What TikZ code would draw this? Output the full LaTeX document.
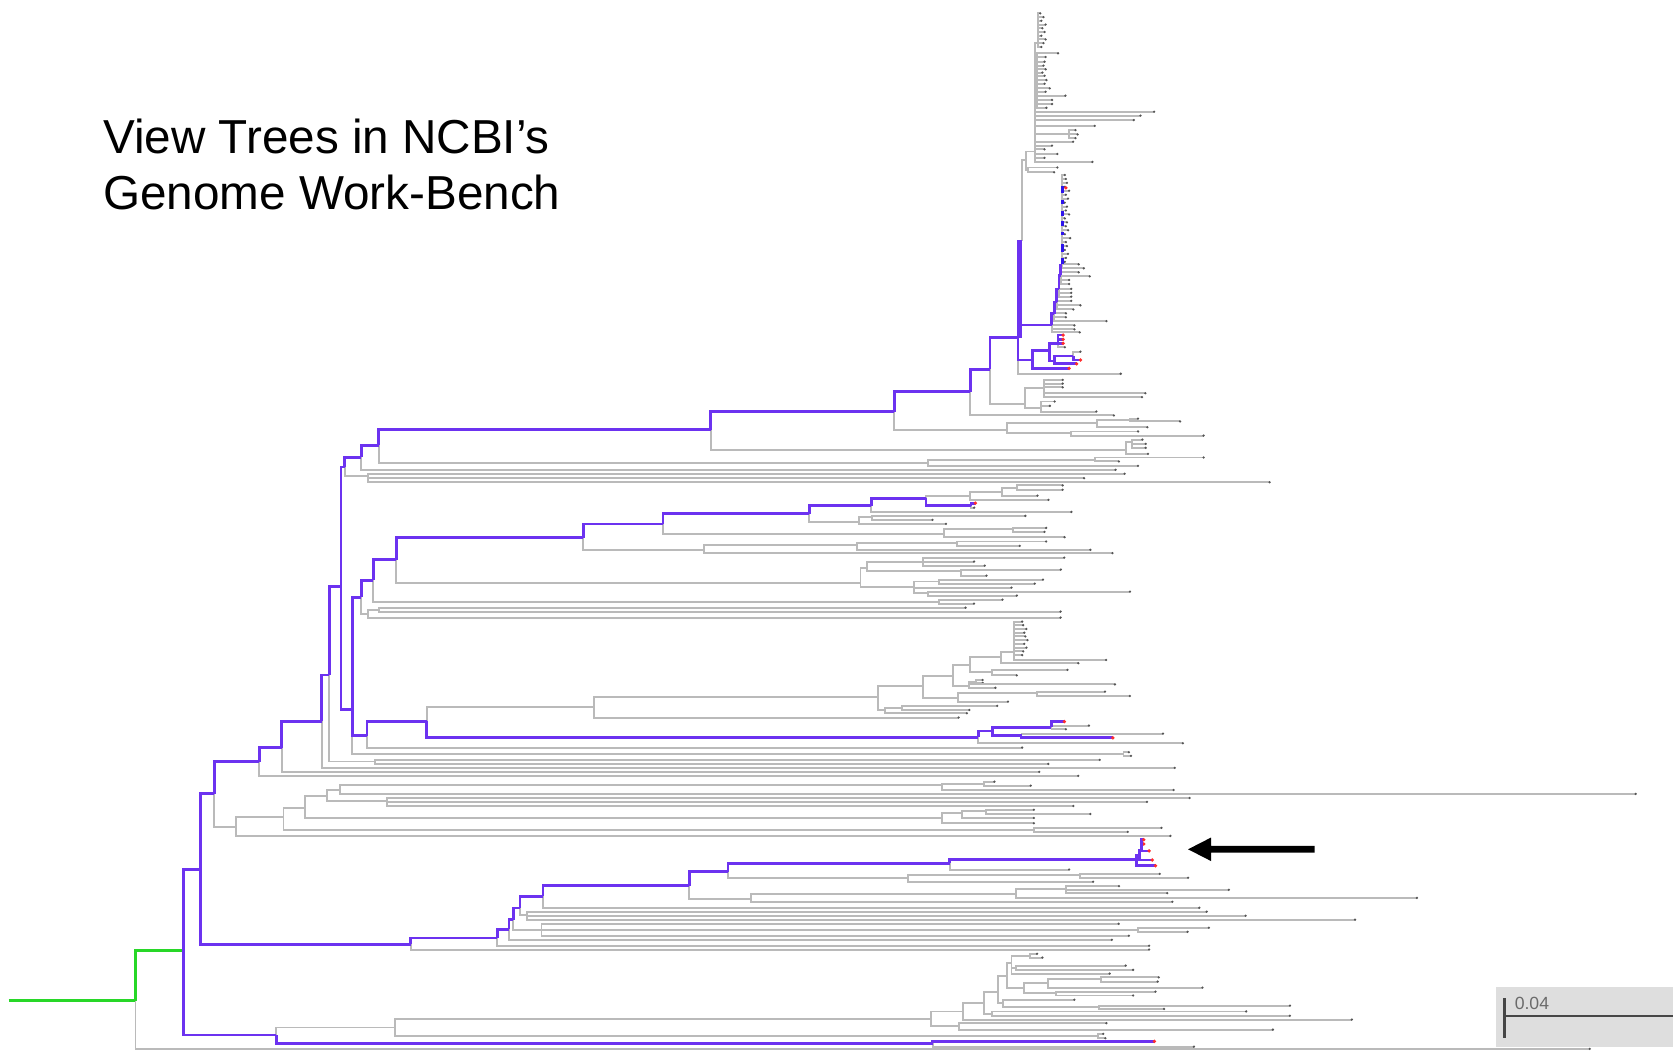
\documentclass[tikz,border=0pt]{standalone}
\usepackage{fontspec}
\newfontfamily\arialf{Liberation Sans}
\definecolor{treegray}{RGB}{186,186,186}
\definecolor{tipgray}{RGB}{85,85,85}
\definecolor{treepurple}{RGB}{108,50,240}
\definecolor{tipred}{RGB}{255,45,45}
\definecolor{treegreen}{RGB}{40,215,40}
\definecolor{blueseg}{RGB}{45,20,235}
\definecolor{scalebox}{RGB}{222,222,222}
\definecolor{scaleink}{RGB}{70,70,70}
\pgfdeclarelayer{fg}
\pgfsetlayers{main,fg}
\tikzset{
  gb/.style={draw=treegray, line width=0.52pt},
  pb/.style={draw=treepurple, line width=0.72pt},
  grn/.style={draw=treegreen, line width=0.72pt},
  tipc/.style={fill=tipgray},
  redtip/.style={fill=tipred},
  ttl/.style={font=\arialf\fontsize{12.7}{15}\selectfont, inner sep=0pt, anchor=base west},
}
% gray branch / gray leaf: elbow from parent (#1,#2) to child (#3,#4)
\newcommand\tgB[4]{\draw[gb] (#1,#2) |- (#3,#4);}
\newcommand\tgL[4]{\draw[gb] (#1,#2) |- (#3,#4); \fill[tipc] (#3,#4) circle (0.34pt);}
% purple branch / purple leaf, kept above the gray ones
\newcommand\tpB[4]{\begin{pgfonlayer}{fg}\draw[pb] (#1,#2) |- (#3,#4);\end{pgfonlayer}}
\newcommand\tpL[4]{\begin{pgfonlayer}{fg}\draw[pb] (#1,#2) |- (#3,#4); \fill[redtip] (#3,#4) circle (0.5pt);\end{pgfonlayer}}
\begin{document}
\begin{tikzpicture}[x=0.01cm,y=-0.01cm]
\useasboundingbox (0,0) rectangle (1568,985);

% ---------- title ----------
\node[ttl] (title1) at (96,143.7) {View Trees in NCBI’s};
\node[ttl] (title2) at (96,196.8) {Genome Work-Bench};

% ---------- root ----------
\draw[grn] (8,938) -- (127,938);
\draw[grn] (127,938) |- (172,891);
\tgL{127}{938}{1490}{983}
\tpB{172}{891}{188}{815}
\tpB{172}{891}{259}{970}

% ---------- bottom clade ----------
\tgB{259}{970}{370}{963}
\tpB{259}{970}{874}{978}
\tpL{874}{978}{1082}{976}
\tgL{874}{978}{1119}{981}
\tgB{370}{963}{873}{955}
\tgB{370}{963}{1029}{971}
\tgL{1029}{971}{1034}{969}
\tgL{1029}{971}{1036}{973}
\tgB{873}{955}{899}{962}
\tgL{899}{962}{1037}{959}
\tgL{899}{962}{1193}{965}
\tgB{873}{955}{903}{948}
\tgL{903}{948}{1267}{955.6}
\tgB{903}{948}{922}{940}
\tgB{922}{940}{930}{950}
\tgL{930}{950}{1168}{948}
\tgL{930}{950}{1209}{952}
\tgB{922}{940}{935}{930}
\tgB{935}{930}{940}{940}
\tgL{940}{940}{1007}{937}
\tgB{940}{940}{1030}{944}
\tgL{1030}{944}{1209}{942.5}
\tgL{1030}{944}{1091}{945.6}
\tgB{935}{930}{944}{915}
\tgB{944}{915}{948}{903}
\tgB{948}{903}{965}{896}
\tgL{965}{896}{972}{894}
\tgL{965}{896}{977}{897.5}
\tgB{948}{903}{952}{907}
\tgL{952}{907}{1055}{905}
\tgL{952}{907}{1062}{909}
\tgL{948}{903}{1040}{912.5}
\tgB{944}{915}{960}{926}
\tgB{960}{926}{982}{921}
\tgB{982}{921}{1032}{918}
\tgL{1032}{918}{1086}{916}
\tgL{1032}{918}{1085}{920}
\tgL{982}{921}{1127}{925.6}
\tgB{960}{926}{990}{931}
\tgL{990}{931}{1083}{929.4}
\tgL{990}{931}{1062}{933}

% ---------- lower purple clade ----------
\tpB{188}{815}{201}{744}
\tpB{188}{815}{385}{885}
\tgL{385}{885}{1077}{890}
\tpB{385}{885}{466}{879}
\tgL{466}{879}{1077}{886.4}
\tpB{466}{879}{477}{871}
\tgL{477}{871}{1042}{880.8}
\tpB{477}{871}{481}{862}
\tgB{481}{862}{507.5}{872}
\tgL{507.5}{872}{1048.5}{865.8}
\tgB{507.5}{872}{1066.6}{871.5}
\tgL{1066.6}{871.5}{1133}{869.5}
\tgL{1066.6}{871.5}{1113}{873.3}
\tgL{507.5}{872}{1058}{877}
\tpB{481}{862}{487.5}{851}
\tgB{487.5}{851}{494}{858}
\tgL{494}{858}{1131}{854.5}
\tgL{494}{858}{1167.5}{858.3}
\tgL{494}{858}{1270}{862}
\tpB{487.5}{851}{508.8}{840}
\tgL{508.8}{840}{1124}{850.8}
\tpB{508.8}{840}{646}{830}
\tgB{646}{830}{703.5}{843}
\tgB{703.5}{843}{952.6}{838}
\tgB{952.6}{838}{999}{833}
\tgL{999}{833}{1048.8}{830.5}
\tgL{999}{833}{1151.7}{834}
\tgL{999}{833}{1094}{837}
\tgL{952.6}{838}{1328}{841.6}
\tgL{703.5}{843}{1098.8}{845.2}
\tpB{646}{830}{682.4}{817}
\tgB{682.4}{817}{850.7}{823}
\tgB{850.7}{823}{1012}{820.5}
\tgL{1012}{820.5}{1087}{819}
\tgL{1012}{820.5}{1113.5}{822.7}
\tgL{850.7}{823}{1024.5}{826.4}
\tpB{682.4}{817}{890}{809}
\tgL{890}{809}{1002}{815}
\tpB{890}{809}{1065}{805.8}
\tpL{1065}{805.8}{1083}{811.4}
\tpB{1065}{805.8}{1068}{802}
\tpL{1068}{802}{1080}{806}
\tpB{1068}{802}{1070}{797}
\tpL{1070}{797}{1077}{797.5}
\tpL{1070}{797}{1072}{791}
\tpL{1070}{797}{1072}{787}

% ---------- middle gray clade ----------
\tpB{201}{744}{243}{714}
\tgB{201}{744}{221}{775}
\tgL{221}{775}{1097}{783.5}
\tgB{221}{775}{265.7}{766}
\tgB{265.7}{766}{968.7}{778}
\tgL{968.7}{778}{1088.6}{776}
\tgL{968.7}{778}{1057}{779.7}
\tgB{265.7}{766}{286}{757}
\tgB{286}{757}{882.7}{767}
\tgB{882.7}{767}{901.7}{762}
\tgB{901.7}{762}{924}{760.5}
\tgL{924}{760.5}{969}{759}
\tgL{924}{760.5}{1022}{762.9}
\tgL{901.7}{762}{969}{766.6}
\tgL{882.7}{767}{969}{771.6}
\tgB{286}{757}{306.7}{746}
\tgB{306.7}{746}{318.5}{740}
\tgB{318.5}{740}{882.7}{736}
\tgB{882.7}{736}{922.5}{734.5}
\tgL{922.5}{734.5}{932}{732.6}
\tgL{922.5}{734.5}{966}{736.3}
\tgL{882.7}{736}{1100}{740.4}
\tgL{318.5}{740}{1533}{744.1}
\tgB{306.7}{746}{363}{751}
\tgL{363}{751}{1115}{747.9}
\tgL{363}{751}{1075}{751.6}
\tgL{363}{751}{1006}{755.4}

% ---------- upper purple backbone ----------
\tpB{243}{714}{264}{700.7}
\tgL{243}{714}{1010.6}{727.2}
\tpB{264}{700.7}{301.5}{676}
\tgL{264}{700.7}{974}{723.5}
\tpB{301.5}{676}{308.7}{632.5}
\tgL{301.5}{676}{1101}{719.7}
\tpB{308.7}{632.5}{319.5}{549.7}
\tgB{308.7}{632.5}{351.7}{713.7}
\tgL{351.7}{713.7}{1030.7}{712.2}
\tgL{351.7}{713.7}{982.5}{716}
\tpB{319.5}{549.7}{323}{437.8}
\tpB{319.5}{549.7}{330.2}{665}
\tpB{330.2}{665}{338.5}{559.7}
\tpB{330.2}{665}{343.9}{689.6}
\tgB{330.2}{665}{1053}{706.6}
\tgL{1053}{706.6}{1058}{705}
\tgL{1053}{706.6}{1060}{708.5}
\tgL{343.9}{689.6}{958}{700.7}
\tpB{343.9}{689.6}{399.8}{676}
\tgB{399.8}{676}{557}{663}
\tpB{399.8}{676}{917}{691}
\tgL{917}{691}{1108.6}{696.6}
\tpB{917}{691}{930.3}{685}
\tpB{930.3}{685}{985.5}{681.6}
\tpB{930.3}{685}{957.4}{689.4}
\tgL{957.4}{689.4}{1090}{687.5}
\tpL{957.4}{689.4}{1043}{691.5}
\tpL{985.5}{681.6}{997.5}{676.3}
\tgL{985.5}{681.6}{1020.6}{680}
\tgL{985.5}{681.6}{999}{683.5}

% gray clade hanging from x=557
\tgB{557}{663}{823.2}{653.7}
\tgL{557}{663}{898.5}{672.5}
\tgB{823.2}{653.7}{865}{642.6}
\tgB{823.2}{653.7}{829.9}{665.4}
\tgB{829.9}{665.4}{845}{663.2}
\tgL{845}{663.2}{934.6}{661.6}
\tgL{845}{663.2}{908.5}{665.4}
\tgL{829.9}{665.4}{906.2}{668.5}
\tgB{865}{642.6}{892.8}{633.2}
\tgB{865}{642.6}{897.8}{654.4}
\tgB{897.8}{654.4}{972.1}{649.7}
\tgL{972.1}{649.7}{1035.7}{648.2}
\tgL{972.1}{649.7}{1059}{652.3}
\tgL{897.8}{654.4}{944.7}{657.6}
\tgB{892.8}{633.2}{909.5}{623.5}
\tgB{892.8}{633.2}{907.9}{642.9}
\tgB{907.9}{642.9}{914.6}{638.8}
\tgL{914.6}{638.8}{921}{637.3}
\tgL{914.6}{638.8}{921}{640}
\tgL{907.9}{642.9}{1045}{641.5}
\tgL{907.9}{642.9}{933}{644.6}
\tgB{909.5}{623.5}{938}{615.4}
\tgB{909.5}{623.5}{929.6}{629.4}
\tgL{929.6}{629.4}{1000.5}{627.9}
\tgL{929.6}{629.4}{953}{633}
\tgB{938}{615.4}{950.7}{610.7}
\tgL{938}{615.4}{1010.6}{621.6}
\tgL{950.7}{610.7}{1036.7}{618.5}
\foreach \yy/\xx in {582.6/958,586/959,589.5/962,593/960,596.5/961,600/963,603.5/960,607/962,610.5/959,614/958}
  {\tgL{950.7}{610.7}{\xx}{\yy}}

% clades between y=520 and y=580
\tpB{338.5}{559.7}{350}{544}
\tgB{338.5}{559.7}{345}{575.6}
\tgB{345}{575.6}{355}{572}
\tgL{355}{572}{905}{569.5}
\tgL{355}{572}{994}{573.2}
\tgL{345}{575.6}{994}{578.8}
\tpB{350}{544}{371.5}{524.7}
\tgB{350}{544}{880}{564}
\tgL{880}{564}{939.6}{562}
\tgL{880}{564}{912.9}{565.7}
\tpB{371.5}{524.7}{546.8}{503.8}
\tgB{371.5}{524.7}{806.5}{546.6}
\tgB{806.5}{546.6}{813}{532}
\tgB{813}{532}{865}{526.5}
\tgL{865}{526.5}{997.5}{522.6}
\tgL{865}{526.5}{912.9}{526.3}
\tgL{865}{526.5}{922.9}{530.1}
\tgB{813}{532}{900.9}{535.5}
\tgL{900.9}{535.5}{994.2}{533.8}
\tgL{900.9}{535.5}{924.6}{539.5}
\tgB{806.5}{546.6}{857}{550}
\tgB{857}{550}{880}{545}
\tgL{880}{545}{977.5}{543.2}
\tgL{880}{545}{969.8}{547}
\tgL{857}{550}{948}{550.7}
\tgB{857}{550}{870}{556}
\tgL{870}{556}{1059}{554.5}
\tgL{870}{556}{953}{558.2}

% clades between y=450 and y=520
\tpB{546.8}{503.8}{621.4}{491}
\tgB{546.8}{503.8}{659.4}{515.3}
\tgB{659.4}{515.3}{803.4}{510.6}
\tgL{659.4}{515.3}{1042.6}{518.4}
\tgB{803.4}{510.6}{897.3}{509}
\tgL{897.3}{509}{980.5}{507.5}
\tgL{897.3}{509}{955.8}{511.6}
\tgL{803.4}{510.6}{1022}{515.3}
\tpB{621.4}{491}{758.6}{481.6}
\tgB{621.4}{491}{884.8}{500.3}
\tgB{884.8}{500.3}{949.3}{495.6}
\tgL{949.3}{495.6}{980.5}{494.8}
\tgL{949.3}{495.6}{979}{498.5}
\tgL{884.8}{500.3}{997.7}{503.5}
\tpB{758.6}{481.6}{816.5}{473.8}
\tgB{758.6}{481.6}{805.2}{489.4}
\tgB{805.2}{489.4}{817.7}{485}
\tgL{817.7}{485}{961}{483.5}
\tgL{817.7}{485}{874}{487.3}
\tgL{805.2}{489.4}{886.6}{491}
\tpB{816.5}{473.8}{867.9}{466.9}
\tgL{816.5}{473.8}{1004.2}{479.8}
\tgB{867.9}{466.9}{909.2}{464.7}
\tpB{867.9}{466.9}{910}{473.8}
\tpL{910}{473.8}{914.2}{471.6}
\tgL{910}{473.8}{913}{475.8}
\tgB{909.2}{464.7}{939.3}{460.7}
\tgL{909.2}{464.7}{982.7}{468.5}
\tgB{939.3}{460.7}{952.9}{457}
\tgL{952.9}{457}{996}{455}
\tgL{952.9}{457}{996}{459}
\tgL{939.3}{460.7}{972.4}{464.5}

% clades between y=385 and y=452
\tpB{323}{437.8}{338.5}{428.5}
\tgB{323}{437.8}{345}{446}
\tgL{345}{446}{1054}{444}
\tgL{345}{446}{1016}{448.2}
\tgL{345}{446}{1190}{452}
\tpB{338.5}{428.5}{355}{417.5}
\tgL{338.5}{428.5}{1045.5}{440.3}
\tpB{355}{417.5}{666}{402.8}
\tgB{355}{417.5}{869.4}{434}
\tgB{869.4}{434}{1026}{431}
\tgL{1026}{431}{1128}{428.8}
\tgL{1026}{431}{1048.7}{432.5}
\tgL{869.4}{434}{1066.6}{436.6}
\tpB{666}{402.8}{838.2}{385.7}
\tgB{666}{402.8}{1055}{421.6}
\tgB{1055}{421.6}{1061}{414}
\tgL{1061}{414}{1070.7}{412}
\tgL{1061}{414}{1073.8}{416}
\tgL{1061}{414}{1073.8}{419.7}
\tgL{1055}{421.6}{1076}{425.4}
\tpB{838.2}{385.7}{909.5}{367}
\tgB{838.2}{385.7}{944}{402.9}
\tgB{944}{402.9}{1028.2}{396.6}
\tgB{1028.2}{396.6}{1058.7}{393.5}
\tgL{1058.7}{393.5}{1066.6}{392.3}
\tgL{1058.7}{393.5}{1106}{395}
\tgL{1028.2}{396.6}{1075.4}{400.4}
\tgB{944}{402.9}{1004.2}{406}
\tgL{1004.2}{406}{1066.6}{404.4}
\tgL{1004.2}{406}{1128}{408.2}

% clades between y=340 and y=390
\tpB{909.5}{367}{927.9}{346}
\tgL{909.5}{367}{1044}{389.4}
\tpB{927.9}{346}{954}{316.5}
\tgB{927.9}{346}{960.7}{378.6}
\tgB{960.7}{378.6}{978.7}{364}
\tgL{978.7}{364}{996}{356}
\tgL{978.7}{364}{996}{359.5}
\tgL{978.7}{364}{996}{363}
\tgL{978.7}{364}{1073.5}{368.5}
\tgL{978.7}{364}{1070.4}{372.2}
\tgB{960.7}{378.6}{976}{382}
\tgL{976}{382}{988.5}{376.3}
\tgL{976}{382}{984}{380.4}
\tgL{976}{382}{1027.6}{385.7}

% crowded upper clades
\tgL{954}{316.5}{1050.4}{350.3}
\tpB{954}{316.5}{967.4}{337.4}
\tpB{954}{316.5}{985.8}{304.6}
\tpB{954}{316.5}{957.5}{226}
\begin{pgfonlayer}{fg}
  \draw[pb, line width=1.2pt] (955.6,226) -- (955.6,317);
\end{pgfonlayer}
\tgB{957.5}{226}{961.4}{150}

\tpB{967.4}{337.4}{983.9}{328.6}
\tpL{967.4}{337.4}{1002}{345.2}
\tpB{983.9}{328.6}{991.7}{321.8}
\tpB{983.9}{328.6}{988.6}{338.3}
\tpL{991.7}{321.8}{996.4}{314}
\tpL{991.7}{321.8}{996.4}{318}
\tpL{991.7}{321.8}{996.4}{321.8}
\tgL{991.7}{321.8}{998}{325.5}
\tpB{988.6}{338.3}{1005.8}{333.6}
\tpL{988.6}{338.3}{1009}{341}
\tgL{1005.8}{333.6}{1012.6}{329.6}
\tpL{1005.8}{333.6}{1012.6}{337.4}

% blue-marked cluster
\tpB{985.8}{304.6}{988}{294}
\tgL{985.8}{304.6}{1007}{305}
\tgL{985.8}{304.6}{1007}{308.7}
\tgL{985.8}{304.6}{1012}{311.5}
\tpB{988}{294}{990.5}{283}
\tgL{988}{294}{1037}{301}
\tgL{988}{294}{999}{297.4}
\tgL{988}{294}{999}{293.7}
\tpB{990.5}{283}{992.5}{271}
\tgL{990.5}{283}{1006}{290}
\tgL{990.5}{283}{1012.6}{286.2}
\tgL{990.5}{283}{1004}{282}
\tpB{992.5}{271}{994}{258}
\tgL{992.5}{271}{1004}{278}
\tgL{992.5}{271}{1004}{274.5}
\tgL{992.5}{271}{1004}{270.8}
\tpB{994}{258}{995.5}{249}
\tgL{994}{258}{1002}{266.2}
\tgL{994}{258}{1002}{262.4}
\tgL{994}{258}{1021.4}{259}
\tgL{994}{258}{1011}{255.2}
\tgL{995.5}{249}{1015.8}{251.5}
\tgL{995.5}{249}{1011}{247.7}
\foreach \yy/\xx in {164/998,167.7/999,171.4/1000,175.1/998,178.8/1002,182.5/999,186.2/1001,189.9/998,193.6/1000,197.3/999,201/1002,204.7/998,208.4/1000,212.1/999,215.8/1001,219.5/998,223.2/1003,226.9/999,230.6/1000,234.3/998,238/1001,241.7/999,245.4/998}
  {\tgL{995.5}{249}{\xx}{\yy}}
\begin{pgfonlayer}{fg}
  \foreach \ya/\yb in {174/181,187/191,198/202,207/212,217/220,229/236,242/247}
    {\draw[draw=blueseg, line width=0.8pt] (995.5,\ya) -- (995.5,\yb);}
  \fill[redtip] (999,176) circle (0.5pt);
\end{pgfonlayer}

% top gray cluster
\tgB{961.4}{150}{963.6}{159}
\tgL{963.6}{159}{991}{157}
\tgL{963.6}{159}{988}{161.5}
\tgB{961.4}{150}{969.8}{142}
\tgB{969.8}{142}{973}{40}
\foreach \yy/\xx in {12.5/975,16/978,19.5/976,23/980,26.5/977,30/979,33.5/976,37/980,40.5/978,44/976}
  {\tgL{973}{40}{\xx}{\yy}}
\tgB{969.8}{142}{971.5}{75}
\foreach \yy/\xx in {50/991.7,53.5/980,57.8/979,61.5/978,65/980,68/977,71/979,75/980.8,78.5/979,82.8/983.9,86/980,89.7/998.6,93.7/986,97.5/986,101/980.8}
  {\tgL{971.5}{75}{\xx}{\yy}}
\foreach \yy/\xx in {104.7/1081.7,108.4/1068.9,112.5/1062.6,118/1026,132.8/1005.8,136.5/986,140/979,144.3/991,148/979,151.8/1023.9}
  {\tgL{969.8}{142}{\xx}{\yy}}
\tgB{969.8}{142}{1002}{126}
\tgL{1002}{126}{1008}{122}
\tgL{1002}{126}{1010}{126}
\tgL{1002}{126}{1008}{129.5}

% ---------- pointer arrow ----------
\fill[black] (1113.5,796) -- (1135,785) -- (1135,792.9) -- (1232,792.9)
  -- (1232,799.1) -- (1135,799.1) -- (1135,807) -- cycle;

% ---------- scale bar ----------
\fill[scalebox] (1402,925) rectangle (1568,981);
\draw[draw=scaleink, line width=0.65pt] (1410,935.5) -- (1410,973);
\draw[draw=scaleink, line width=0.65pt] (1410,952) -- (1568,952);
\node[font=\arialf\fontsize{4.7}{5}\selectfont, text=black!58, inner sep=0pt, anchor=base west] (scalelabel) at (1419,946) {0.04};
\end{tikzpicture}
\end{document}
